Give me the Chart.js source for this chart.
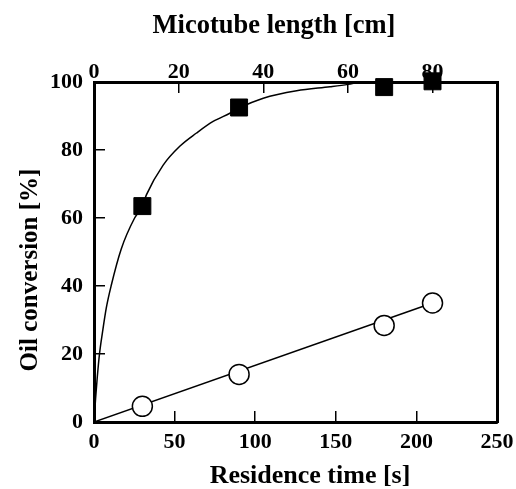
<!DOCTYPE html>
<html>
<head>
<meta charset="utf-8">
<script src="https://cdn.jsdelivr.net/npm/chart.js@4.4.1/dist/chart.umd.min.js"></script>
<style>
    html, body { margin: 0; padding: 0; background: #fff; overflow: hidden; }
    #wrap { width: 516px; height: 489px; }
</style>
</head>
<body>
<div id="wrap"><canvas id="chart"></canvas></div>
<script>
// measured points (residence time in s, conversion in %)
const residenceTime = [30, 90, 180, 210];
const convFilled = [63.5, 92.5, 98.5, 100.2];
const convOpen = [4.6, 14.0, 28.4, 35.0];

// fitted curve through the filled squares
const curveTime = [0, 1.0, 2.0, 3.4, 5.3, 7.6, 10.6, 16.9, 25.2, 30, 32.5, 42.8, 53.2, 63.6, 73.9, 84.3, 90, 105, 125.7, 146.4, 157.6, 167, 210];
const curveConv = [0, 7, 13, 20, 26.5, 33.5, 40, 50.9, 60, 63.5, 66.8, 75.5, 81.1, 85, 88.4, 90.8, 92.3, 95.2, 97.4, 98.6, 99.3, 100, 100];

// straight fit through the open circles
const lineTime = [0, 210];
const lineConv = [0, 35];

// tick labels
const bottomTicks = [0, 50, 100, 150, 200, 250];
const leftTicks = [0, 20, 40, 60, 80, 100];
const topTicks = [0, 20, 40, 60, 80];
const topMax = 95.24; // 250 s matches ~95 cm of tube

const FONT = '"Liberation Serif", "Times New Roman", serif';

function toXY(xs, ys) {
    return xs.map((x, i) => ({ x: x, y: ys[i] }));
}

function fixedTicks(list) {
    return scale => { scale.ticks = list.map(v => ({ value: v })); };
}

// fixed axis sizes, no extra room for overflowing labels
function fitH(h) {
    return s => { s.height = h; s.paddingLeft = 0; s.paddingRight = 0; };
}
function fitV(w) {
    return s => { s.width = w; s.paddingTop = 0; s.paddingBottom = 0; };
}

/* ==================== AXIS TITLES ==================== */

const axisTitles = {
    id: 'axisTitles',
    afterDraw(chart) {
        const { ctx, chartArea: a } = chart;
        ctx.save();
        ctx.fillStyle = '#000';
        ctx.textAlign = 'center';
        ctx.textBaseline = 'alphabetic';
        ctx.font = 'bold 26.5px ' + FONT;
        ctx.fillText('Micotube length [cm]', a.left + 180, a.top - 49);
        ctx.font = 'bold 26px ' + FONT;
        ctx.fillText('Residence time [s]', a.left + 216, a.bottom + 61);
        ctx.font = 'bold 25px ' + FONT;
        ctx.translate(a.left - 57, a.top + 188);
        ctx.rotate(-Math.PI / 2);
        ctx.fillText('Oil conversion [%]', 0, 0);
        ctx.restore();
    }
};

/* ==================== CHART ==================== */

const tickFont = { family: FONT, size: 22, weight: 'bold' };
const axisGrid = {
    color: '#000',
    lineWidth: 1.5,
    drawOnChartArea: false,
    drawTicks: true,
    tickLength: -11
};
const axisBorder = { display: true, color: '#000', width: 3 };

new Chart(document.getElementById('chart'), {
    type: 'scatter',
    data: {
        datasets: [
            {
                data: toXY(residenceTime, convFilled),
                pointStyle: 'rect',
                pointRadius: 12,
                backgroundColor: '#000',
                borderColor: '#000',
                borderWidth: 1,
                clip: false,
                order: 0
            },
            {
                data: toXY(residenceTime, convOpen),
                pointStyle: 'circle',
                pointRadius: 10,
                backgroundColor: '#fff',
                borderColor: '#000',
                borderWidth: 1.5,
                clip: false,
                order: 0
            },
            {
                data: toXY(curveTime, curveConv),
                showLine: true,
                pointRadius: 0,
                borderColor: '#000',
                borderWidth: 1.5,
                cubicInterpolationMode: 'monotone',
                order: 1
            },
            {
                data: toXY(lineTime, lineConv),
                showLine: true,
                pointRadius: 0,
                borderColor: '#000',
                borderWidth: 1.5,
                order: 1
            }
        ]
    },
    options: {
        responsive: true,
        maintainAspectRatio: false,
        animation: false,
        devicePixelRatio: 1,
        layout: { padding: 0 },
        plugins: {
            legend: { display: false },
            tooltip: { enabled: false }
        },
        scales: {
            x: {
                type: 'linear',
                position: 'bottom',
                min: 0,
                max: 250,
                afterBuildTicks: fixedTicks(bottomTicks),
                afterFit: fitH(67),
                grid: axisGrid,
                border: axisBorder,
                ticks: { color: '#000', font: tickFont, padding: 18, maxRotation: 0 }
            },
            x2: {
                type: 'linear',
                position: 'top',
                min: 0,
                max: topMax,
                afterBuildTicks: fixedTicks(topTicks),
                afterFit: fitH(82),
                grid: axisGrid,
                border: axisBorder,
                ticks: { color: '#000', font: tickFont, padding: 7, maxRotation: 0 }
            },
            y: {
                type: 'linear',
                position: 'left',
                min: 0,
                max: 100,
                afterBuildTicks: fixedTicks(leftTicks),
                afterFit: fitV(94),
                grid: axisGrid,
                border: axisBorder,
                ticks: { color: '#000', font: tickFont, padding: 22 }
            },
            y2: {
                type: 'linear',
                position: 'right',
                min: 0,
                max: 100,
                afterFit: fitV(19),
                grid: { drawOnChartArea: false, drawTicks: false },
                border: axisBorder,
                ticks: { display: false }
            }
        }
    },
    plugins: [axisTitles]
});
</script>
</body>
</html>
